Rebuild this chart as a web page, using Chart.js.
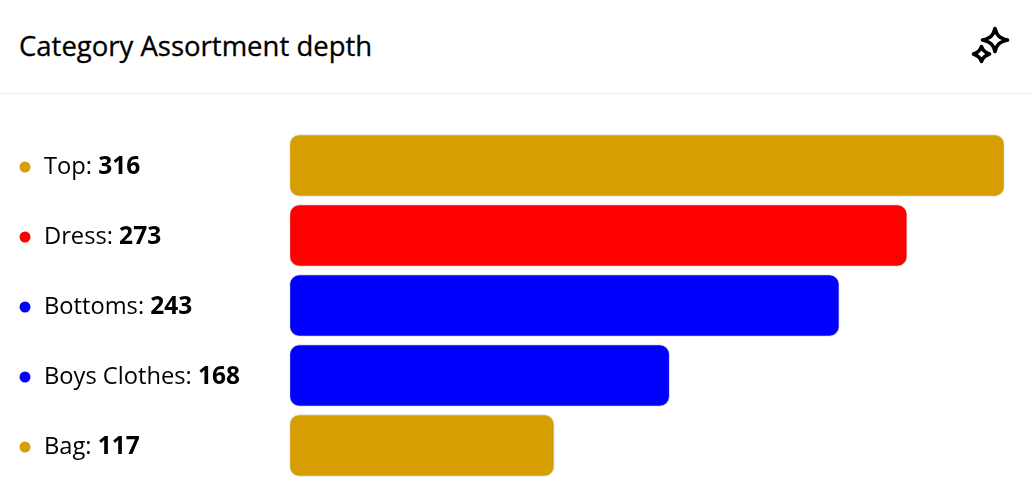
<!DOCTYPE html>
<html>
<head>
<meta charset="utf-8">
<title>Category Assortment depth</title>
<script src="https://cdn.jsdelivr.net/npm/chart.js@4"></script>
<style>
    html, body { margin: 0; padding: 0; background: #fff; overflow: hidden; }
    body { width: 1033px; height: 502px; position: relative; font-family: "Open Sans", sans-serif; color: #000; }
    .head { position: absolute; left: 0; top: 0; width: 1033px; height: 93px; border-bottom: 1px solid #eeeeee; }
    .head h1 { position: absolute; left: 19px; top: 29px; margin: 0; font-size: 27.5px; line-height: 34px; font-weight: 500; -webkit-text-stroke: 0.3px #000; white-space: nowrap; }
    .head svg { position: absolute; left: 965px; top: 20px; }
    .wrap { position: absolute; left: 0; top: 94px; width: 1033px; height: 408px; }
</style>
</head>
<body>
<div class="head">
    <h1>Category Assortment depth</h1>
    <svg width="52" height="50" viewBox="0 0 52 50" fill="none" stroke="#000" stroke-width="3.6" stroke-linejoin="round">
        <path d="M30 8.5 C31.5 15 34 18 42.5 20 C34 22 31.5 25 30 31.5 C28.5 25 26 22 17.5 20 C26 18 28.5 15 30 8.5 Z"/>
        <path d="M16.5 26.5 C17.5 30 19 32 24.5 34 C19 36 17.5 38 16.5 41.5 C15.5 38 14 36 8.5 34 C14 32 15.5 30 16.5 26.5 Z"/>
    </svg>
</div>
<div class="wrap"><canvas id="myChart"></canvas></div>
<script>
const categories = ["Top", "Dress", "Bottoms", "Boys Clothes", "Bag"];
const values = [316, 273, 243, 168, 117];
const colors = ["#d69e00", "#ff0000", "#0000ff", "#0000ff", "#d69e00"];

// draws the dot + "Name: value" row next to each bar
const rowLabels = {
    id: "rowLabels",
    afterDraw(chart) {
        const ctx = chart.ctx;
        const y = chart.scales.y;
        ctx.save();
        ctx.textBaseline = "middle";
        categories.forEach(function (name, i) {
            const py = y.getPixelForTick(i) + 1.5;
            ctx.fillStyle = colors[i];
            ctx.beginPath();
            ctx.arc(25, py, 5.5, 0, Math.PI * 2);
            ctx.fill();
            ctx.fillStyle = "#000";
            ctx.font = '400 23.7px "Open Sans", sans-serif';
            const text = name + ": ";
            ctx.fillText(text, 44, py + 0.5);
            const w = ctx.measureText(text).width;
            ctx.font = '700 24.5px "Open Sans", sans-serif';
            ctx.fillText(String(values[i]), 44 + w, py + 0.5);
        });
        ctx.restore();
    },
};

new Chart(document.getElementById("myChart").getContext("2d"), {
    type: "bar",
    data: {
        labels: categories,
        datasets: [
            {
                data: values,
                backgroundColor: colors,
                borderColor: "#dddddd",
                borderWidth: 1,
                borderRadius: 10,
                borderSkipped: false,
                barThickness: 61.6,
            },
        ],
    },
    options: {
        indexAxis: "y",
        responsive: true,
        maintainAspectRatio: false,
        animation: false,
        layout: { padding: { left: 289.5, right: 28.5, top: 36.5, bottom: 21.5 } },
        plugins: { legend: { display: false }, tooltip: { enabled: false } },
        scales: {
            x: { display: false, min: 0, max: 316 },
            y: { display: false },
        },
    },
    plugins: [rowLabels],
});
</script>
</body>
</html>
